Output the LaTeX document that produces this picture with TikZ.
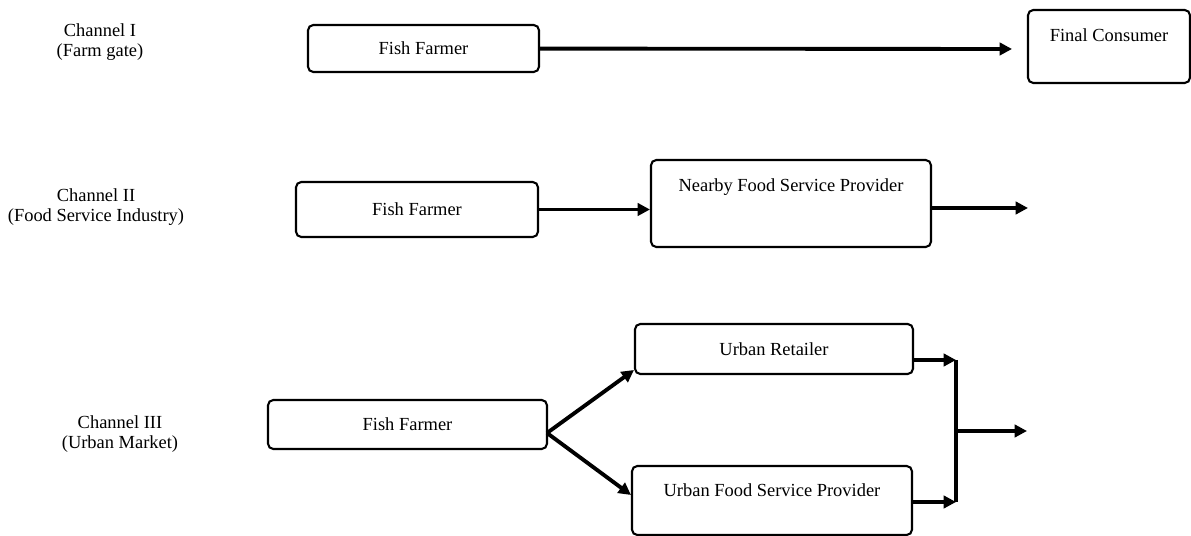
\documentclass[tikz,border=0pt]{standalone}
\usepackage{fontspec}
\setmainfont{Liberation Serif}
\usepackage{tikz}
\usetikzlibrary{positioning, arrows.meta, calc}
\tikzset{
	chantext/.style={align=center, font=\fontsize{10.5}{11.4}\selectfont}
}
\tikzset{
	flow/.style={line width=2.2pt, -{Triangle[length=7pt,width=7pt]}}
}

\begin{document}
\begin{tikzpicture}[x=0.02cm, y=-0.02cm]

              \tikzset{
                boxnode/.style={
                    shape=rectangle,
                    rounded corners=3pt,
                    draw=black,
                    line width=1.2pt,
                    fill=white,
                    inner sep=0pt,
                    font=\fontsize{10.5}{12}\selectfont
                  },
                topnode/.style={
                    boxnode,
                    text height=0.63cm
                  }
              }

              \useasboundingbox (0,0) rectangle (1191,536);

              % channel names
              \node[chantext] (ch1) at (100,42) {Channel I\\(Farm gate)};
              \node[chantext] (ch2) at (96,207) {Channel II\\(Food Service Industry)};
              \node[chantext] (ch3) at (120,434) {Channel III\\(Urban Market)};

              % channel I
              \node[boxnode, minimum width=4.62cm, minimum height=0.94cm] (f1) at (423.5,48.5) {Fish Farmer};
              \node[topnode, minimum width=3.24cm, text depth=0.83cm] (fc) at (1109,46.5) {Final Consumer};
              \coordinate (e1) at (1012,49);
              \draw[flow] (f1) -- (e1);

              % channel II
              \node[boxnode, minimum width=4.84cm, minimum height=1.1cm] (f2) at (417,209.5) {Fish Farmer};
              \node[topnode, minimum width=5.6cm, text depth=1.11cm] (np) at (791,203.5) {Nearby Food Service Provider};
              \coordinate (e2) at (1028,208);
              \draw[flow] (f2.east) -- (f2.east -| np.west);
              \draw[flow] (np.east |- e2) -- (e2);

              % channel III
              \node[boxnode, minimum width=5.58cm, minimum height=0.98cm] (f3) at (407.5,424.5) {Fish Farmer};
              \node[boxnode, minimum width=5.56cm, minimum height=1.0cm] (ur) at (774,349) {Urban Retailer};
              \node[topnode, minimum width=5.6cm, text height=0.61cm, text depth=0.77cm] (uf) at (772,500.5) {Urban Food Service Provider};
              \coordinate (sp) at (547,433);
              \coordinate (jn) at (956,431);
              \coordinate (e3) at (1027,431);
              \draw[flow] (sp) -- (ur.west |- 0,370);
              \draw[flow] (sp) -- (uf.west |- 0,495);
              \draw[flow] (ur.east |- 0,360) -- (jn |- 0,360);
              \draw[flow] (uf.east |- 0,502) -- (jn |- 0,502);
              \draw[line width=2.2pt] (jn |- 0,360) -- (jn |- 0,502);
              \draw[flow] (jn) -- (e3);
            \end{tikzpicture}
\end{document}
